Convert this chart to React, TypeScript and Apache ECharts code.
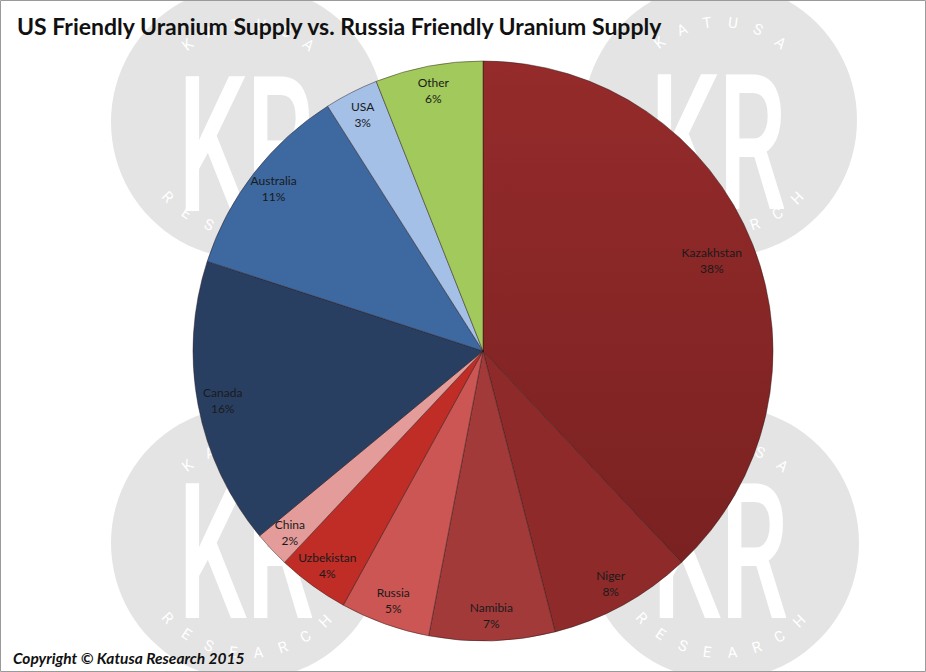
import React, { useEffect, useRef } from 'react';
import * as echarts from 'echarts';

// uranium supply share by country, percent (clockwise from 12 o'clock)
const countries = ['Kazakhstan', 'Niger', 'Namibia', 'Russia', 'Uzbekistan', 'China', 'Canada', 'Australia', 'USA', 'Other'];
const shares = [38, 8, 7, 5, 4, 2, 16, 11, 3, 6];
const sliceColors = ['#8a2626', '#8f2a2a', '#a23a3a', '#cb5654', '#bf2d26', '#e39c9a', '#293f62', '#3d68a0', '#a4c0e6', '#a2c95b'];

const TITLE = 'US Friendly Uranium Supply vs. Russia Friendly Uranium Supply';
const FOOTER = 'Copyright © Katusa Research 2015';

// watermark badges: centre x, centre y, vertical shift of the big letters
const badges: [number, number, number][] = [[248, 122, 24], [720, 120, 24], [248, 543, 10], [722, 543, 10]];

const badgeElements = (cx: number, cy: number, dy: number) => {
  const els: any[] = [
    { type: 'circle', shape: { cx, cy, r: 137 }, style: { fill: '#e4e4e4' }, silent: true },
    {
      type: 'text', x: cx - 2, y: cy + dy, scaleX: 1.08, scaleY: 1.9, silent: true,
      style: { text: 'KR', x: 0, y: 0, font: '500 100px Roboto', lineHeight: 72, fill: '#ffffff', align: 'center', verticalAlign: 'middle' }
    }
  ];
  'KATUSA'.split('').forEach((ch, i) => {
    const a = (-38 + i * 15.2) * Math.PI / 180;
    els.push({
      type: 'text', x: cx + 98 * Math.sin(a), y: cy - 98 * Math.cos(a), rotation: -a, silent: true,
      style: { text: ch, x: 0, y: 0, font: 'normal 15px Roboto', fill: '#ffffff', align: 'center', verticalAlign: 'middle' }
    });
  });
  'RESEARCH'.split('').forEach((ch, i) => {
    const b = (-47 + i * 13.1) * Math.PI / 180;
    els.push({
      type: 'text', x: cx + 110 * Math.sin(b), y: cy + 110 * Math.cos(b), rotation: b, silent: true,
      style: { text: ch, x: 0, y: 0, font: 'normal 15px Roboto', fill: '#ffffff', align: 'center', verticalAlign: 'middle' }
    });
  });
  return els;
};

export default function App() {
  const chartRef = useRef<HTMLDivElement>(null);

  useEffect(() => {
    if (!chartRef.current) return;
    const chart = echarts.init(chartRef.current, null, { renderer: 'svg' });

    const data = countries.map((name, i) => ({
      name,
      value: shares[i],
      itemStyle: {
        color: i === 0
          ? new echarts.graphic.LinearGradient(0, 0, 0, 1, [
            { offset: 0, color: '#952b2b' },
            { offset: 1, color: '#7a2121' }
          ])
          : sliceColors[i]
      }
    }));

    const graphics: any[] = [];
    badges.forEach(([x, y, dy]) => graphics.push(...badgeElements(x, y, dy)));
    graphics.push({
      type: 'rect', silent: true, z: 100,
      shape: { x: 0.5, y: 0.5, width: 925, height: 671 },
      style: { fill: 'none', stroke: '#9a9a9a', lineWidth: 1 }
    });

    const labelStyle = {
      show: true,
      position: 'inside',
      formatter: (p: any) => `${p.name}\n${p.value}%`,
      fontFamily: 'Lato',
      fontSize: 12,
      lineHeight: 16,
      color: '#1a1a1a'
    };

    chart.setOption({
      animation: false,
      backgroundColor: '#ffffff',
      title: [
        {
          text: TITLE, left: 12, top: 9,
          textStyle: { fontFamily: 'Lato', fontWeight: 'bold', fontSize: 23, color: '#111111' }
        },
        {
          text: FOOTER, left: 8, bottom: 1,
          textStyle: { fontFamily: 'Lato', fontWeight: 'bold', fontStyle: 'italic', fontSize: 15.5, color: '#111111' }
        }
      ],
      graphic: graphics,
      series: [
        {
          type: 'pie',
          center: [483, 351],
          radius: 290,
          startAngle: 90,
          clockwise: true,
          data,
          label: { show: false },
          labelLine: { show: false },
          itemStyle: { borderColor: 'rgba(40,20,20,0.45)', borderWidth: 1 },
          silent: true
        },
        {
          // transparent ring only used to place the labels near the rim
          type: 'pie',
          center: [483, 351],
          radius: [234, 290],
          startAngle: 90,
          clockwise: true,
          data: countries.map((name, i) => ({ name, value: shares[i], label: { show: i !== 0 } })),
          itemStyle: { color: 'rgba(0,0,0,0)' },
          silent: true,
          label: labelStyle,
          labelLine: { show: false }
        },
        {
          // wider transparent ring for the big slice's label, which sits further in
          type: 'pie',
          center: [483, 351],
          radius: [196, 290],
          startAngle: 90,
          clockwise: true,
          data: countries.map((name, i) => ({ name, value: shares[i], label: { show: i === 0 } })),
          itemStyle: { color: 'rgba(0,0,0,0)' },
          silent: true,
          label: labelStyle,
          labelLine: { show: false }
        }
      ]
    });

    return () => {
      chart.dispose();
    };
  }, []);

  return (
    <div
      ref={chartRef}
      style={{ position: 'absolute', left: 0, top: 0, width: 926, height: 672, background: '#fff' }}
    />
  );
}
